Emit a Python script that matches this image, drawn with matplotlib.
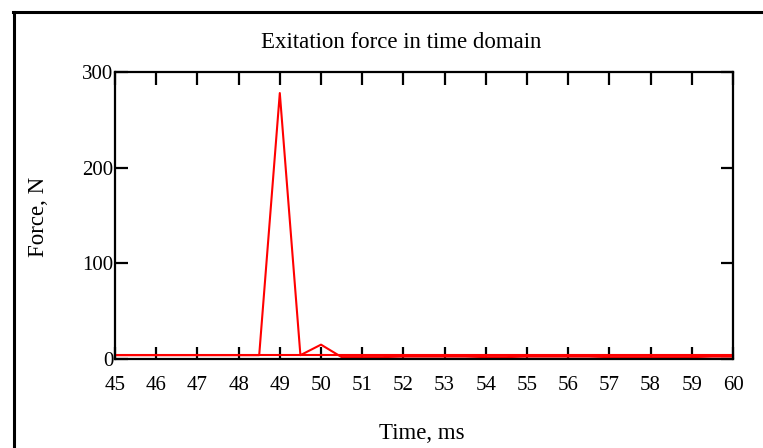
import matplotlib
matplotlib.use("Agg")
import matplotlib.pyplot as plt
from matplotlib.lines import Line2D

plt.rcParams['font.family'] = ['Liberation Serif', 'DejaVu Serif']

# time samples, ms
t = [45, 45.5, 46, 46.5, 47, 47.5, 48, 48.5, 49, 49.5, 50, 50.5, 51, 51.5,
     52, 52.5, 53, 53.5, 54, 54.5, 55, 55.5, 56, 56.5, 57, 57.5, 58, 58.5,
     59, 59.5, 60]
# excitation force, N
force = [4, 4, 4, 4, 4, 4, 4, 4, 278, 4, 15, 2, 2, 2,
         2.5, 2.5, 2.5, 2.5, 2, 2, 2.5, 2.5, 2.5, 2.5, 2, 2, 2, 2,
         2, 2.5, 2.5]
# reference level, N
level = [4] * len(t)

xticks = list(range(45, 61))
yticks = [0, 100, 200, 300]

fig = plt.figure(figsize=(7.63, 4.48), dpi=100)
ax = fig.add_axes([115/763, 1-359/448, 618/763, 287/448])

ax.plot(t, level, color='red', lw=1.5, clip_on=False)
ax.plot(t, force, color='red', lw=1.5, clip_on=False)

ax.set_xlim(45, 60)
ax.set_ylim(0, 300)
ax.set_xticks(xticks)
ax.set_yticks(yticks)
ax.tick_params(axis='x', direction='in', length=9, width=1.6, top=True,
               labelsize=15, pad=12, colors='black')
ax.tick_params(axis='y', direction='in', length=9, width=1.6, right=True,
               labelsize=15, pad=1)
for s in ax.spines.values():
    s.set_linewidth(1.6)

fig.text(401/763, 1-43/448, "Exitation force in time domain", ha='center',
         va='center', fontsize=16.5)
fig.text(422/763, 1-433/448, "Time, ms", ha='center', va='center', fontsize=16.5)
fig.text(39/763, 1-217/448, "Force, N", ha='center', va='center',
         rotation=90, fontsize=16.5)

# outer frame
fig.add_artist(Line2D([13.5/763, 13.5/763], [0, 1-12.5/448], color='black',
                      lw=2.2, transform=fig.transFigure))
fig.add_artist(Line2D([12.5/763, 1], [1-12.5/448, 1-12.5/448], color='black',
                      lw=2.2, transform=fig.transFigure))

fig.savefig("out.png", dpi=100)
